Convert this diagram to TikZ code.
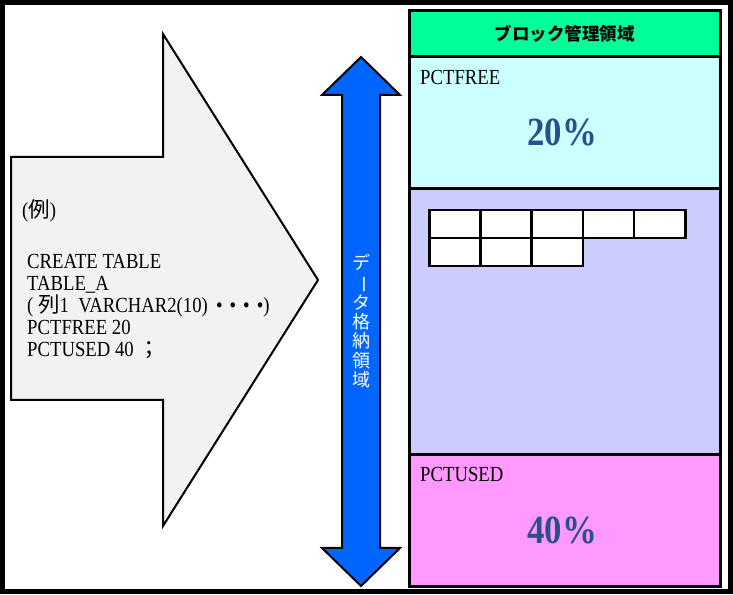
\documentclass[tikz,border=0pt]{standalone}
\usepackage{fontspec}
\usepackage{graphicx}
\setmainfont[FakeStretch=0.87]{Liberation Serif}
\newfontfamily\jp{Noto Sans CJK JP}
\usetikzlibrary{positioning}
\definecolor{arrowgray}{RGB}{242,242,242}
\definecolor{arrowblue}{RGB}{0,102,255}
\definecolor{hdrgreen}{RGB}{0,255,153}
\definecolor{freecyan}{RGB}{204,255,255}
\definecolor{datalav}{RGB}{204,204,255}
\definecolor{usedpink}{RGB}{255,153,255}
\definecolor{pctblue}{RGB}{40,80,140}

\begin{document}
\begin{tikzpicture}[x=1pt, y=1pt,
    region/.style={draw, line width=3pt, minimum width=311pt, inner sep=0pt, outer sep=0pt},
    cell/.style={draw, line width=2.5pt, minimum width=51.2pt, minimum height=28pt, inner sep=0pt, fill=white},
    txt/.style={inner sep=0pt, font=\fontsize{21.5}{22}\selectfont},
    pct/.style={inner sep=0pt, font=\fontsize{40}{44}\selectfont\bfseries, text=pctblue}
  ]
    \useasboundingbox (0,0) rectangle (733,594);
    \draw[line width=5pt] (2.5,2.5) rectangle (730.5,591.5);

    % big arrow with the SQL example
    \draw[line width=2pt, fill=arrowgray, line join=miter]
      (11,437) -- (163,437) -- (163,560) -- (318,314) -- (163,68) -- (163,194) -- (11,194) -- cycle;
    \node[txt, anchor=west] (ex) at (22,383) {({\jp 例})};
    \node[txt, anchor=north west, align=left] (sql) at (27,340)
      {CREATE TABLE\\
       TABLE\_A\\
       ( {\jp 列}1\ \ VARCHAR2(10) \,•\hspace{7pt}•\hspace{7pt}•\hspace{7pt}•)\\
       PCTFREE 20\\
       PCTUSED 40 {\jp ；}};

    % data area arrow
    \draw[line width=2pt, fill=arrowblue, line join=miter]
      (361,537) -- (400,499) -- (380,499) -- (380,46) -- (400,46) -- (361,8)
      -- (322,46) -- (342,46) -- (342,499) -- (322,499) -- cycle;
    \node[inner sep=0pt, align=center, text=white, font=\jp\fontsize{18}{19.3}\selectfont] (area) at (361,273)
      {デ\\\rotatebox[origin=c]{-90}{ー}\\タ\\格\\納\\領\\域};

    % block layout
    \node[region, fill=hdrgreen, minimum height=46pt, anchor=north west,
      font=\jp\bfseries\fontsize{17.5}{20}\selectfont] (hdr) at (409,583) {ブロック管理領域};
    \node[region, fill=freecyan, minimum height=132pt, below=0pt of hdr] (free) {};
    \node[region, fill=datalav, minimum height=266pt, below=0pt of free] (data) {};
    \node[region, fill=usedpink, minimum height=131pt, below=0pt of data] (used) {};

    \node[txt, below right=13pt and 11pt of free.north west] (freetxt) {PCTFREE};
    \node[pct] (freepct) at (562,462) {20\%};
    \node[txt, below right=12pt and 11pt of used.north west] (usedtxt) {PCTUSED};
    \node[pct] (usedpct) at (562,64) {40\%};

    \foreach \i in {0,...,4}
      \node[cell, anchor=north west] (ra\i) at ({428+51.2*\i},385) {};
    \foreach \i in {0,...,2}
      \node[cell, anchor=north west] (rb\i) at ({428+51.2*\i},357) {};
  \end{tikzpicture}
\end{document}
